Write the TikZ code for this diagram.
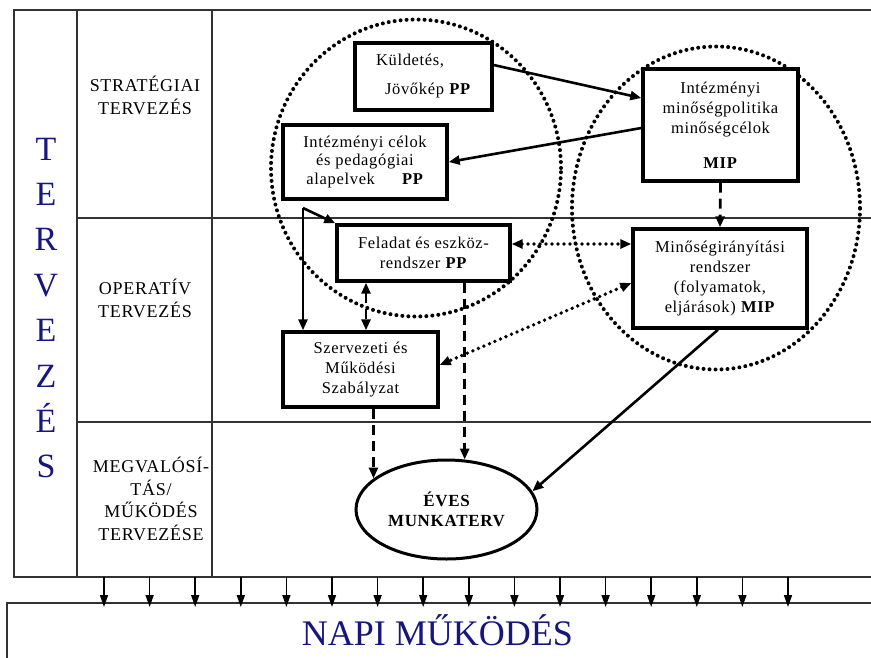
\documentclass[tikz,border=0pt]{standalone}
\usepackage{fontspec}
\setmainfont{Liberation Serif}
\newfontfamily\boxfont[LetterSpace=4]{Liberation Serif}
\usetikzlibrary{arrows.meta,shapes.geometric}
\definecolor{tblue}{RGB}{22,22,125}
\definecolor{framec}{RGB}{50,50,50}
\begin{document}
\begin{tikzpicture}[x=1pt,y=-1pt,
  framel/.style={draw=framec, line width=2pt},
  boxn/.style={draw, line width=3.4pt, fill=white, rectangle, inner sep=0pt, align=center,
    font=\boxfont\fontsize{16.5}{20}\selectfont},
  lbl/.style={align=center, font=\boxfont\fontsize{18}{23}\selectfont},
  dotc/.style={draw, ellipse, line width=4pt, line cap=round, dash pattern=on 0pt off 6pt, inner sep=0pt},
  tip/.style={-{Triangle[length=11pt,width=9pt]}},
  tips/.style={{Triangle[length=11pt,width=9pt]}-{Triangle[length=11pt,width=9pt]}},
  solidc/.style={line width=2.6pt},
  dashc/.style={line width=2.8pt, dash pattern=on 10pt off 6pt},
  dotl/.style={line width=3.8pt, line cap=round, dash pattern=on 0pt off 6pt},
  small/.style={line width=1.6pt, -{Triangle[length=12pt,width=8pt]}}
]
\useasboundingbox (0,0) rectangle (871,657);
\fill[white] (0,0) rectangle (871,657);

% frame
\draw[framel] (875,10) -- (14,10) -- (14,577) -- (875,577);
\draw[framel] (77,10) -- (77,577);
\draw[framel] (212,10) -- (212,577);
\draw[framel] (77,218) -- (875,218);
\draw[framel] (77,422) -- (875,422);
\draw[framel] (875,603) -- (7,603) -- (7,662);

% vertical title
\foreach \ch [count=\i from 0] in {T,E,R,V,E,Z,É,S}
  \node[anchor=base, text=tblue, font=\fontsize{34}{34}\selectfont, inner sep=0pt] (L\i) at (46,160+45.4*\i) {\ch};

% row labels
\node[lbl] (strat) at (145,95) {STRATÉGIAI\\TERVEZÉS};
\node[lbl] (oper) at (145,298) {OPERATÍV\\TERVEZÉS};
\node[lbl, font=\boxfont\fontsize{18}{22.7}\selectfont] (megv) at (151,499) {MEGVALÓSÍ-\\TÁS/\\MŰKÖDÉS\\TERVEZÉSE};

% dotted circles
\node[dotc, minimum width=290pt, minimum height=297pt] (c1) at (416,168) {};
\node[dotc, minimum width=288pt, minimum height=323pt] (c2) at (716,208) {};

% boxes
\node[boxn, minimum width=137pt, minimum height=67pt, align=left] (kul) at (423.5,76.5)
  {Küldetés,\\[9pt]\hspace*{9pt}Jövőkép \textbf{PP}};
\node[boxn, minimum width=164pt, minimum height=74pt, font=\boxfont\fontsize{16.5}{18.5}\selectfont] (cel) at (365,162)
  {Intézményi célok\\és pedagógiai\\alapelvek\hspace{1.6em}\textbf{PP}};
\node[boxn, minimum width=155pt, minimum height=112pt] (mip) at (720.5,125)
  {Intézményi\\minőségpolitika\\minőségcélok\\[15pt]\textbf{MIP}};
\node[boxn, minimum width=173pt, minimum height=56pt] (fel) at (423.5,253)
  {Feladat és eszköz-\\rendszer \textbf{PP}};
\node[boxn, minimum width=155pt, minimum height=75pt] (szm) at (360.5,369.5)
  {Szervezeti és\\Működési\\Szabályzat};
\node[boxn, minimum width=174pt, minimum height=99pt] (mir) at (720,278.5)
  {Minőségirányítási\\rendszer\\(folyamatok,\\eljárások) \textbf{MIP}};
\node[draw, ellipse, line width=3pt, fill=white, minimum width=181pt, minimum height=99pt, inner sep=0pt,
  align=center, font=\boxfont\bfseries\fontsize{17}{20}\selectfont] (ell) at (446.5,509.5) {ÉVES\\MUNKATERV};

% connectors
\draw[solidc, tip] ([yshift=11.5pt]kul.east) -- ([yshift=27pt]mip.west);
\draw[solidc, tip] ([yshift=-3pt]mip.west) -- (cel.east);
\draw[dashc, tip] (mip.south) -- (mir.north);

\coordinate (split) at (303,208);
\draw[solidc, tip] (split) -- (split |- szm.north);
\draw[solidc, tip] (split) -- (fel.north west);

\coordinate (fs) at ([xshift=5.5pt]szm.north);
\draw[dashc, tips] (fs |- fel.south) -- (fs);

\coordinate (fd) at ([yshift=9pt]fel.east);
\draw[dotl, tips] (fd) -- (fd -| mir.west);
\draw[dotl, tips] ([yshift=-4.5pt]mir.west) -- ([yshift=4.5pt]szm.east);

\coordinate (e2) at (ell.70.5);
\draw[dashc, tip] (e2 |- fel.south) -- (e2);
\coordinate (e1) at (ell.157);
\draw[dashc, tip] (e1 |- szm.south) -- (e1);
\draw[solidc, tip] ([xshift=-2pt]mir.south) -- (ell.12);

% daily operation
\node[anchor=base, text=tblue, font=\fontsize{36}{36}\selectfont, inner sep=0pt] (napi) at (437.5,645) {NAPI MŰKÖDÉS};
\foreach \i in {0,...,15}
  \draw[small] (104+45.6*\i,577) -- (104+45.6*\i,607);
\end{tikzpicture}
\end{document}
